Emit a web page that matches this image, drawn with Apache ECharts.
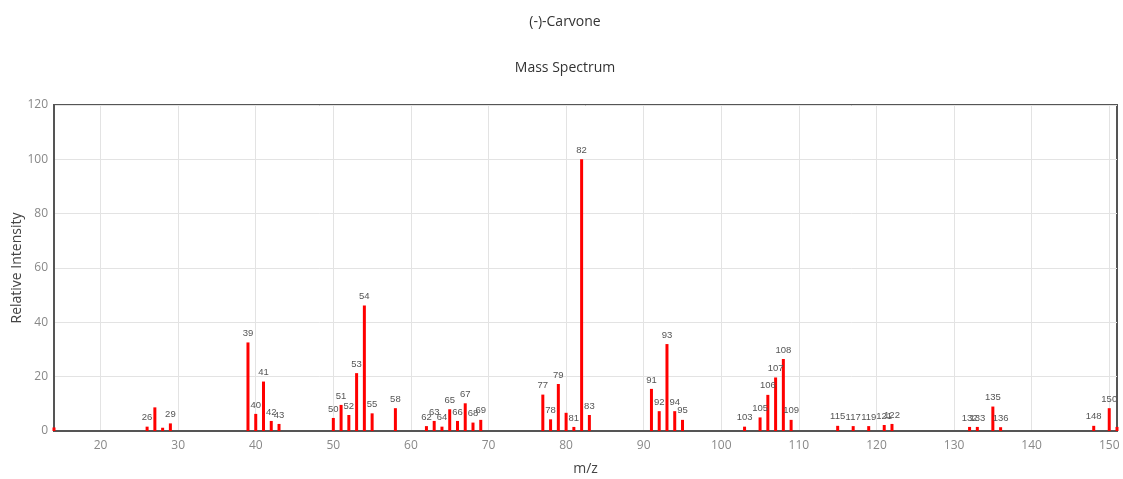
<!DOCTYPE html>
<html>
<head>
<meta charset="utf-8">
<script src="https://cdn.jsdelivr.net/npm/echarts@6/dist/echarts.min.js"></script>
<style>
html,body{margin:0;padding:0;background:#fff;}
#chart{width:1123px;height:479px;}
</style>
</head>
<body>
<div id="chart"></div>
<script>
const chartTitle = '(-)-Carvone';
const chartSubtitle = 'Mass Spectrum';
const xAxisTitle = 'm/z';
const yAxisTitle = 'Relative Intensity';

const mz = [14, 26, 27, 28, 29, 39, 40, 41, 42, 43, 50, 51, 52, 53, 54, 55, 58,
  62, 63, 64, 65, 66, 67, 68, 69, 77, 78, 79, 80, 81, 82, 83,
  91, 92, 93, 94, 95, 103, 105, 106, 107, 108, 109,
  115, 117, 119, 121, 122, 132, 133, 135, 136, 148, 150, 151];
const intensity = [1.3, 1.6, 8.7, 1.2, 2.8, 32.6, 6.3, 18.2, 3.7, 2.6, 4.8, 9.6, 5.9, 21.3, 46.2, 6.5, 8.4,
  1.8, 3.7, 1.6, 8.0, 3.7, 10.2, 3.1, 4.1, 13.4, 4.3, 17.3, 6.7, 1.5, 100, 5.9,
  15.5, 7.3, 32.0, 7.3, 4.1, 1.6, 5.0, 13.3, 19.7, 26.5, 4.1,
  1.9, 1.8, 1.8, 2.2, 2.6, 1.5, 1.5, 9.0, 1.4, 1.9, 8.4, 1.5];
const unlabeledMz = [14, 27, 28, 80, 151];

const xMin = 14, xMax = 151;
const xTicks = [20, 30, 40, 50, 60, 70, 80, 90, 100, 110, 120, 130, 140, 150];

const data = mz.map((m, i) => ({
  value: [m, intensity[i]],
  label: { show: unlabeledMz.indexOf(m) < 0 }
}));

const chart = echarts.init(document.getElementById('chart'), null, {renderer: 'canvas'});
chart.setOption({
  animation: false,
  backgroundColor: '#fff',
  graphic: [
    {type: 'text', x: 565, y: 22, style: {text: chartTitle, font: '14px "Open Sans"', fill: '#333', textAlign: 'center', textVerticalAlign: 'middle'}},
    {type: 'text', x: 565, y: 68, style: {text: chartSubtitle, font: '14px "Open Sans"', fill: '#333', textAlign: 'center', textVerticalAlign: 'middle'}},
    {type: 'text', x: 17, y: 268, rotation: Math.PI / 2, style: {text: yAxisTitle, font: '14px "Open Sans"', fill: '#444', textAlign: 'center', textVerticalAlign: 'middle'}}
  ],
  grid: {left: 54, right: 6, top: 105, bottom: 48, containLabel: false, outerBoundsMode: 'none',
    show: true, borderColor: '#555', borderWidth: 2, backgroundColor: 'transparent'},
  xAxis: {
    type: 'value', min: xMin, max: xMax,
    name: xAxisTitle, nameLocation: 'middle', nameGap: 31,
    nameTextStyle: {fontFamily: 'Open Sans', fontSize: 14, color: '#444'},
    axisLine: {show: true, lineStyle: {color: '#555', width: 2}},
    axisTick: {show: false},
    axisLabel: {
      customValues: xTicks,
      fontFamily: 'Open Sans', fontSize: 12, color: '#888', margin: 9
    },
    splitLine: {show: false}
  },
  yAxis: {
    type: 'value', min: 0, max: 120, interval: 20,
    axisLine: {show: true, lineStyle: {color: '#555', width: 2}},
    axisTick: {show: false},
    axisLabel: {fontFamily: 'Open Sans', fontSize: 12, color: '#888', margin: 6},
    splitLine: {show: true, lineStyle: {color: '#e3e3e3', width: 1}}
  },
  series: [{
    type: 'bar',
    barWidth: 3,
    data: data,
    itemStyle: {color: '#ff0000'},
    label: {
      position: 'top', distance: 4,
      formatter: p => String(p.value[0]),
      fontFamily: 'Liberation Sans', fontSize: 9.5, color: '#555'
    },
    markLine: {
      silent: true, symbol: 'none', animation: false, z: 0,
      label: {show: false},
      lineStyle: {color: '#e3e3e3', width: 1, type: 'solid'},
      data: xTicks.map(t => ({xAxis: t}))
    }
  }]
});
</script>
</body>
</html>
